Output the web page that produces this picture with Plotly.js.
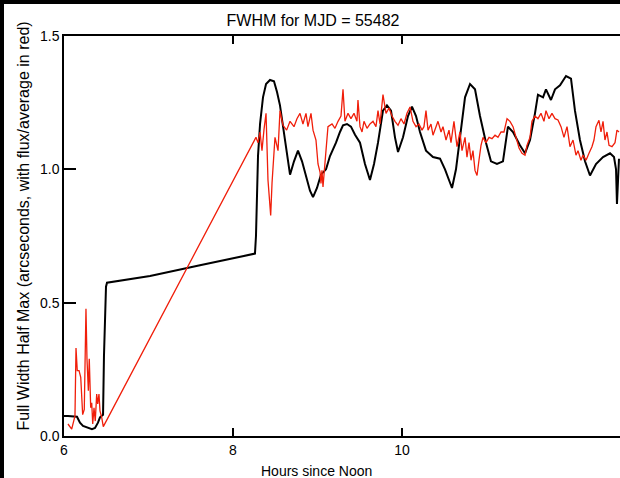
<!DOCTYPE html>
<html>
<head>
<meta charset="utf-8">
<script src="https://cdn.plot.ly/plotly-3.0.1.min.js"></script>
<style>
html,body{margin:0;padding:0;background:#000;width:620px;height:478px;overflow:hidden;}
#plot{position:absolute;left:4px;top:4px;width:616px;height:474px;background:#fff;}
</style>
</head>
<body>
<div id="plot"></div>
<script>
const fwhmHours = [6.000,6.047,6.154,6.189,6.225,6.284,6.331,6.367,6.402,6.426,6.462,6.473,6.497,6.509,7.018,7.609,8.260,
8.272,8.284,8.296,8.320,8.355,8.391,8.438,8.485,8.521,8.556,8.615,8.675,8.722,8.769,8.817,8.864,8.911,8.947,8.994,9.041,
9.101,9.148,9.219,9.266,9.302,9.349,9.396,9.444,9.503,9.562,9.621,9.669,9.716,9.775,9.822,9.870,9.917,9.953,10.012,10.071,
10.118,10.166,10.213,10.284,10.367,10.450,10.509,10.556,10.592,10.639,10.686,10.746,10.805,10.864,10.923,10.994,11.053,
11.124,11.195,11.231,11.254,11.314,11.396,11.456,11.515,11.574,11.609,11.669,11.704,11.763,11.811,11.870,11.941,12.000,
12.047,12.106,12.166,12.225,12.296,12.379,12.462,12.509,12.533,12.544,12.556,12.568];
const fwhmValues = [0.075,0.075,0.072,0.05,0.038,0.032,0.026,0.03,0.05,0.07,0.08,0.3,0.56,0.575,0.60,0.64,0.684,
0.75,0.9,1.05,1.17,1.27,1.32,1.335,1.33,1.29,1.24,1.12,0.98,1.03,1.07,1.03,0.98,0.92,0.896,0.93,0.98,
1.0,1.05,1.10,1.14,1.165,1.17,1.16,1.13,1.10,1.02,0.96,1.02,1.10,1.22,1.24,1.22,1.12,1.065,1.12,1.20,
1.235,1.20,1.14,1.07,1.046,1.04,1.0,0.96,0.93,1.0,1.11,1.27,1.32,1.30,1.20,1.10,1.03,
1.02,1.03,1.10,1.16,1.14,1.09,1.06,1.11,1.21,1.28,1.27,1.30,1.26,1.30,1.315,1.35,1.34,
1.22,1.11,1.03,0.977,1.02,1.046,1.06,1.046,1.0,0.87,1.0,1.04];

const fluxHours = [6.047,6.091,6.130,6.142,6.157,6.178,6.198,6.213,6.221,6.240,6.260,6.272,6.288,6.299,6.316,6.328,6.340,
6.355,6.370,6.387,6.399,6.414,6.426,6.446,6.465,8.272,8.296,8.320,8.343,8.367,8.391,8.414,8.446,8.462,8.497,8.533,8.556,
8.592,8.635,8.675,8.722,8.757,8.793,8.828,8.864,8.887,8.923,8.947,8.982,9.006,9.030,9.041,9.053,9.065,9.101,9.124,9.172,
9.207,9.243,9.278,9.302,9.325,9.361,9.396,9.432,9.467,9.479,9.503,9.527,9.550,9.586,9.621,9.657,9.692,9.716,9.740,9.775,
9.811,9.846,9.882,9.917,9.953,9.988,10.024,10.059,10.095,10.130,10.166,10.201,10.237,10.260,10.284,10.308,10.343,10.367,
10.402,10.426,10.462,10.485,10.521,10.556,10.580,10.615,10.651,10.686,10.710,10.746,10.769,10.793,10.817,10.840,10.864,
10.888,10.911,10.935,10.959,10.994,11.030,11.065,11.101,11.136,11.172,11.207,11.243,11.278,11.314,11.349,11.385,11.420,
11.456,11.479,11.515,11.538,11.574,11.609,11.645,11.680,11.704,11.740,11.775,11.811,11.846,11.882,11.917,11.953,11.988,
12.024,12.059,12.083,12.118,12.142,12.178,12.213,12.248,12.272,12.296,12.331,12.355,12.379,12.402,12.426,12.450,12.485,
12.521,12.544,12.568];
const fluxValues = [0.045,0.026,0.075,0.33,0.245,0.245,0.22,0.14,0.08,0.10,0.477,0.29,0.17,0.29,0.106,0.125,0.045,
0.106,0.056,0.157,0.12,0.157,0.094,0.07,0.035,1.12,1.10,1.14,1.07,1.15,1.21,0.96,0.827,0.95,1.12,1.07,1.22,
1.165,1.147,1.18,1.16,1.19,1.21,1.17,1.21,1.16,1.21,1.147,1.11,1.02,0.99,0.947,0.996,0.934,1.07,1.16,1.17,
1.154,1.18,1.20,1.30,1.18,1.21,1.19,1.21,1.18,1.26,1.16,1.14,1.18,1.154,1.17,1.18,1.16,1.22,1.17,1.28,
1.21,1.23,1.20,1.18,1.165,1.19,1.17,1.21,1.234,1.18,1.16,1.17,1.147,1.16,1.22,1.147,1.17,1.128,
1.16,1.18,1.14,1.16,1.11,1.147,1.10,1.18,1.085,1.14,1.07,1.12,1.046,1.10,1.034,1.07,0.996,
0.977,1.034,1.09,1.12,1.10,1.12,1.115,1.128,1.12,1.14,1.14,1.19,1.18,1.16,1.12,1.08,1.06,
1.053,1.09,1.12,1.18,1.20,1.19,1.21,1.18,1.22,1.19,1.21,1.19,1.185,1.16,1.12,1.16,1.085,
1.11,1.053,1.07,1.034,1.053,1.034,1.06,1.085,1.11,1.16,1.184,1.14,1.18,1.11,1.14,1.09,1.085,
1.10,1.147,1.14];

const xMajorTicks = [6, 8, 10];
const xMajorLabels = ['6', '8', '10'];
const yMajorTicks = [0, 0.5, 1.0, 1.5];
const yMajorLabels = ['0.0', '0.5', '1.0', '1.5'];

const titleText = 'FWHM for MJD = 55482';
const xTitleText = 'Hours since Noon';
const yTitleText = 'Full Width Half Max (arcseconds, with flux/average in red)';

const FONT = 'Liberation Sans, Arial, sans-serif';

const traces = [
  {x: fwhmHours, y: fwhmValues, type: 'scatter', mode: 'lines',
   line: {color: '#000000', width: 2}, hoverinfo: 'skip'},
  {x: fluxHours, y: fluxValues, type: 'scatter', mode: 'lines',
   line: {color: '#f01e0a', width: 1.3}, hoverinfo: 'skip'}
];

const layout = {
  width: 616, height: 474,
  margin: {l: 60, r: 0, t: 32, b: 42},
  paper_bgcolor: '#ffffff', plot_bgcolor: '#ffffff',
  showlegend: false,
  font: {family: FONT, color: '#000', size: 14},
  title: {text: titleText, font: {family: FONT, size: 16, color: '#000'},
          xref: 'container', yref: 'container', x: 0.5016, y: 0.966,
          xanchor: 'center', yanchor: 'middle'},
  xaxis: {
    range: [6, 12.58], showgrid: false, zeroline: false,
    showline: true, linecolor: '#000', linewidth: 1.5, mirror: 'allticks',
    tickmode: 'array', tickvals: xMajorTicks, ticktext: xMajorLabels,
    ticks: 'inside', ticklen: 8, tickwidth: 2, tickcolor: '#000',
    tickfont: {family: FONT, size: 14, color: '#000'}
  },
  yaxis: {
    range: [0, 1.5], showgrid: false, zeroline: false,
    showline: true, linecolor: '#000', linewidth: 1.5,
    tickmode: 'array', tickvals: yMajorTicks, ticktext: yMajorLabels,
    ticks: 'inside', ticklen: 12, tickwidth: 2, tickcolor: '#000',
    tickfont: {family: FONT, size: 14, color: '#000'}
  },
  annotations: [
    {text: xTitleText, xref: 'paper', yref: 'paper', x: 0.455, y: -0.0864,
     xanchor: 'center', yanchor: 'middle', showarrow: false,
     font: {family: FONT, size: 14, color: '#000'}},
    {text: yTitleText, xref: 'paper', yref: 'paper', x: -0.0737, y: 0.524,
     xanchor: 'center', yanchor: 'middle', showarrow: false, textangle: -90,
     font: {family: FONT, size: 16, color: '#000'}}
  ]
};

Plotly.newPlot('plot', traces, layout, {displayModeBar: false});
</script>
</body>
</html>
